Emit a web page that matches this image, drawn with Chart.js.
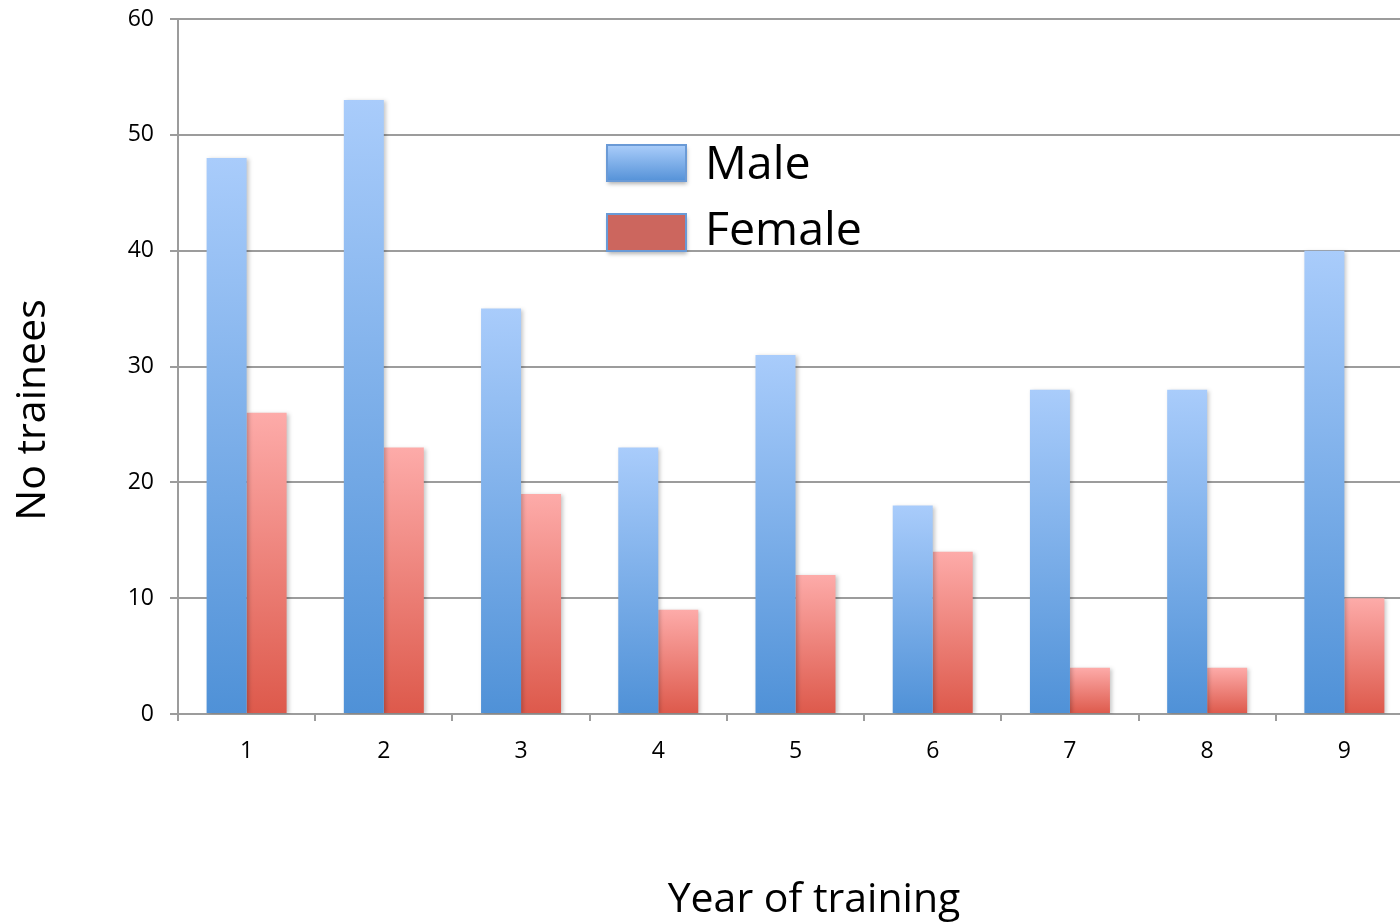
<!DOCTYPE html>
<html>
<head>
<meta charset="utf-8">
<title>Trainees by year of training</title>
<script src="https://cdn.jsdelivr.net/npm/chart.js@4"></script>
<style>
  html, body { margin: 0; padding: 0; overflow: hidden; background: #fff; }
  #wrap { width: 1420px; height: 924px; }
</style>
</head>
<body>
<div id="wrap"><canvas id="chart" width="1420" height="924"></canvas></div>
<script>
// Trainee counts per year of training
const years = ['1', '2', '3', '4', '5', '6', '7', '8', '9'];
const male = [48, 53, 35, 23, 31, 18, 28, 28, 40];
const female = [26, 23, 19, 9, 12, 14, 4, 4, 10];
const yMin = 0, yMax = 60, yStep = 10;

const FONT = '"Open Sans", "DejaVu Sans", sans-serif';
const GRID = '#9c9c9c';

// Each bar gets its own vertical gradient, light at the top, darker at the base
function barGradient(top, bottom) {
  return (ctx) => {
    if (ctx.type !== 'data') return bottom;
    const chart = ctx.chart;
    const y = chart.scales.y;
    if (!y || !chart.chartArea) return bottom;
    const yTop = y.getPixelForValue(ctx.raw);
    const yBase = y.getPixelForValue(0);
    if (!isFinite(yTop) || !isFinite(yBase) || yTop === yBase) return bottom;
    const g = chart.ctx.createLinearGradient(0, yTop, 0, yBase);
    g.addColorStop(0, top);
    g.addColorStop(1, bottom);
    return g;
  };
}

// Soft drop shadow behind the bars
const barShadow = {
  id: 'barShadow',
  beforeDatasetsDraw(chart) {
    const c = chart.ctx;
    c.save();
    c.shadowColor = 'rgba(0,0,0,0.22)';
    c.shadowBlur = 4;
    c.shadowOffsetX = 2;
    c.shadowOffsetY = 1;
  },
  afterDatasetsDraw(chart) {
    chart.ctx.restore();
  }
};

// Legend drawn inside the plot area
const innerLegend = {
  id: 'innerLegend',
  afterDatasetsDraw(chart) {
    const c = chart.ctx;
    const items = [
      { label: chart.data.datasets[0].label, y: 145, h: 36, fill: () => {
          const g = c.createLinearGradient(0, 145, 0, 181);
          g.addColorStop(0, '#aacdfa'); g.addColorStop(1, '#5592d8'); return g; },
        base: 179 },
      { label: chart.data.datasets[1].label, y: 214, h: 37, fill: () => '#cc665e', base: 245 }
    ];
    items.forEach(it => {
      c.save();
      c.shadowColor = 'rgba(0,0,0,0.3)';
      c.shadowBlur = 4;
      c.shadowOffsetX = 1;
      c.shadowOffsetY = 3;
      c.fillStyle = it.fill();
      c.fillRect(607, it.y, 79, it.h);
      c.restore();
      c.save();
      c.strokeStyle = '#6a9ad6';
      c.lineWidth = 2;
      c.strokeRect(607, it.y, 79, it.h);
      c.fillStyle = '#000';
      c.font = '46.5px ' + FONT;
      c.textAlign = 'left';
      c.textBaseline = 'alphabetic';
      c.fillText(it.label, 705, it.base);
      c.restore();
    });
  }
};

// Axis titles
const axisTitles = {
  id: 'axisTitles',
  afterDraw(chart) {
    const c = chart.ctx;
    c.save();
    c.fillStyle = '#000';
    c.font = '41px ' + FONT;
    c.textAlign = 'center';
    c.textBaseline = 'alphabetic';
    c.fillText('Year of training', 814, 912);
    c.translate(45, 410);
    c.rotate(-Math.PI / 2);
    c.fillText('No trainees', 0, 0);
    c.restore();
  }
};

new Chart(document.getElementById('chart'), {
  type: 'bar',
  data: {
    labels: years,
    datasets: [
      {
        label: 'Male',
        data: male,
        backgroundColor: barGradient('#a9ccfb', '#4f91d7'),
        borderWidth: 0,
        categoryPercentage: 0.583,
        barPercentage: 1.0
      },
      {
        label: 'Female',
        data: female,
        backgroundColor: barGradient('#fdaba9', '#dd594b'),
        borderWidth: 0,
        categoryPercentage: 0.583,
        barPercentage: 1.0
      }
    ]
  },
  options: {
    responsive: false,
    devicePixelRatio: 1,
    animation: false,
    layout: { padding: { left: 0, top: 19, right: 7, bottom: 0 } },
    plugins: {
      legend: { display: false },
      tooltip: { enabled: false }
    },
    scales: {
      x: {
        grid: {
          display: true,
          drawOnChartArea: false,
          drawTicks: true,
          tickLength: 7,
          offset: true,
          color: GRID,
          lineWidth: 2
        },
        border: { display: true, color: GRID, width: 2 },
        ticks: {
          color: '#000',
          font: { family: FONT, size: 23 },
          padding: 17,
          maxRotation: 0
        },
        afterFit(scale) {
          scale.height = 210;
          scale.paddingLeft = 0;
          scale.paddingRight = 0;
        }
      },
      y: {
        min: yMin,
        max: yMax,
        grid: {
          color: GRID,
          lineWidth: 2,
          drawTicks: true,
          tickLength: 8
        },
        border: { display: true, color: GRID, width: 2 },
        ticks: {
          stepSize: yStep,
          color: '#000',
          font: { family: FONT, size: 23 },
          padding: 16
        },
        afterFit(scale) {
          scale.width = 178;
          scale.paddingTop = 0;
          scale.paddingBottom = 0;
        }
      }
    }
  },
  plugins: [barShadow, innerLegend, axisTitles]
});
</script>
</body>
</html>
